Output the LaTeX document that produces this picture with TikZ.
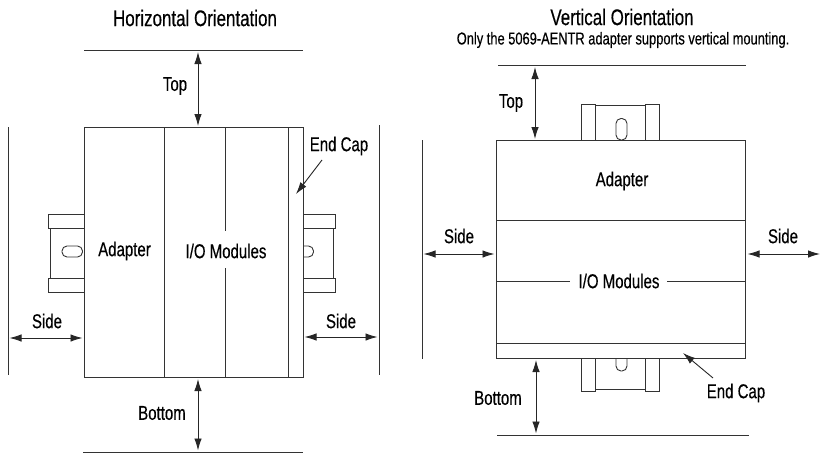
\documentclass[tikz,border=0pt]{standalone}
\usepackage{fontspec}
\setmainfont{Liberation Sans}[FakeStretch=0.75,FakeBold=0.35]
\usetikzlibrary{arrows.meta}
\begin{document}
\begin{tikzpicture}[x=1pt,y=-1pt,
  ln/.style={line width=0.9pt,draw=black!80},
  dim/.style={line width=0.9pt,draw=black!85,{Latex[length=12pt,width=7.5pt]}-{Latex[length=12pt,width=7.5pt]}},
  ptr/.style={line width=0.9pt,draw=black!85,-{Latex[length=12pt,width=7.5pt]}},
  lbl/.style={inner sep=0pt,font=\fontsize{20}{22}\selectfont,text=black},
  ttl/.style={inner sep=0pt,font=\fontsize{22.6}{25}\selectfont,text=black},
  sub/.style={inner sep=0pt,font=\fontsize{17.15}{20}\selectfont,text=black}]
\useasboundingbox (0,0) rectangle (821,455);

% ================= Horizontal orientation =================
\node[ttl] (htitle) at (195,18) {Horizontal Orientation};

% DIN rail (left)
\draw[ln] (48,214) rectangle (84,228);
\draw[ln] (50,228) -- (50,278);
\draw[ln] (48,278) rectangle (84,292);
\draw[ln,rounded corners=5pt] (62,246) rectangle (82.5,257);
% DIN rail (right)
\draw[ln] (303,214) rectangle (335,228);
\draw[ln] (333,228) -- (333,278);
\draw[ln] (303,278) rectangle (335,292);
\draw[ln,rounded corners=5pt] (303,246) -- (313.5,246) -- (313.5,257) -- (303,257);

% module stack
\draw[ln,fill=white] (84,127) rectangle (303,377);
\draw[ln] (164,127) -- (164,377);
\draw[ln] (225,127) -- (225,231);
\draw[ln] (225,268) -- (225,377);
\draw[ln] (288,127) -- (288,377);
\node[lbl] (hadapter) at (124.5,251) {Adapter};
\node[lbl] (hio) at (226,251) {I/O Modules};

% walls / clearance lines
\draw[ln] (84,50) -- (303,50);
\draw[ln] (83,452) -- (303,452);
\draw[ln] (8,127) -- (8,375);
\draw[ln] (379,125) -- (379,375);

% clearance arrows
\coordinate (htopA) at (198,52);
\coordinate (htopB) at (198,126);
\draw[dim] (htopA) -- (htopB);
\node[lbl] (htop) at (175,86) {Top};

\coordinate (hbotA) at (198,379);
\coordinate (hbotB) at (198,450.5);
\draw[dim] (hbotA) -- (hbotB);
\node[lbl] (hbot) at (162,413) {Bottom};

\coordinate (hslA) at (9.5,338);
\coordinate (hslB) at (82.5,338);
\draw[dim] (hslA) -- (hslB);
\node[lbl] (hsidel) at (47,321) {Side};

\coordinate (hsrA) at (304.5,337);
\coordinate (hsrB) at (377.5,337);
\draw[dim] (hsrA) -- (hsrB);
\node[lbl] (hsider) at (341,321) {Side};

\node[lbl] (hendcap) at (339,146) {End Cap};
\coordinate (hecA) at (322,160);
\coordinate (hecB) at (296,194);
\draw[ptr] (hecA) -- (hecB);

% ================= Vertical orientation =================
\node[ttl] (vtitle) at (622,17) {Vertical Orientation};
\node[sub] (vsub) at (623,40) {Only the 5069-AENTR adapter supports vertical mounting.};

% DIN rail (top)
\draw[ln] (581,104) rectangle (595,140);
\draw[ln] (595,105.5) rectangle (645,140);
\draw[ln] (645,104) rectangle (659,140);
\draw[ln,rounded corners=5pt] (616,118.5) rectangle (627,140);
% DIN rail (bottom)
\draw[ln] (581,358) rectangle (595,391);
\draw[ln] (595,358) rectangle (645,389.5);
\draw[ln] (645,358) rectangle (659,391);
\draw[ln,rounded corners=5pt] (616,358) -- (616,371) -- (627,371) -- (627,358);

% module stack
\draw[ln,fill=white] (496,140) rectangle (745,358);
\draw[ln] (496,220) -- (745,220);
\draw[ln] (496,281) -- (570,281);
\draw[ln] (667,281) -- (745,281);
\draw[ln] (496,343) -- (745,343);
\node[lbl] (vadapter) at (622,181) {Adapter};
\node[lbl] (vio) at (619,281) {I/O Modules};

% walls
\draw[ln] (498,65) -- (746,65);
\draw[ln] (497,435) -- (749,435);
\draw[ln] (422,140) -- (422,359);

% clearance arrows
\coordinate (vtopA) at (535,67);
\coordinate (vtopB) at (535,139);
\draw[dim] (vtopA) -- (vtopB);
\node[lbl] (vtop) at (511,103) {Top};

\coordinate (vbotA) at (536,360);
\coordinate (vbotB) at (536,433.5);
\draw[dim] (vbotA) -- (vbotB);
\node[lbl] (vbot) at (498,398) {Bottom};

\coordinate (vslA) at (423.5,254);
\coordinate (vslB) at (494.5,254);
\draw[dim] (vslA) -- (vslB);
\node[lbl] (vsidel) at (459,236) {Side};

\coordinate (vsrA) at (747.5,254);
\coordinate (vsrB) at (820,254);
\draw[dim] (vsrA) -- (vsrB);
\node[lbl] (vsider) at (783,236) {Side};

\node[lbl] (vendcap) at (736,393) {End Cap};
\coordinate (vecA) at (713,378);
\coordinate (vecB) at (683,353);
\draw[ptr] (vecA) -- (vecB);
\end{tikzpicture}
\end{document}
